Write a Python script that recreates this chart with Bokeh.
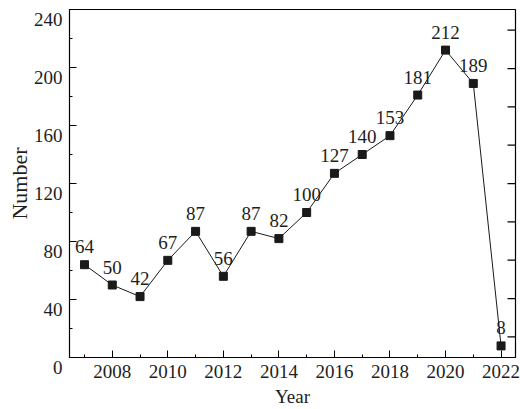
from bokeh.plotting import figure
from bokeh.models import ColumnDataSource, LinearAxis, Range1d, SingleIntervalTicker, FixedTicker
from bokeh.embed import file_html
from bokeh.resources import INLINE

years = [2007, 2008, 2009, 2010, 2011, 2012, 2013, 2014, 2015, 2016, 2017, 2018, 2019, 2020, 2021, 2022]
counts = [64, 50, 42, 67, 87, 56, 87, 82, 100, 127, 140, 153, 181, 212, 189, 8]
labels = [str(c) for c in counts]

y_major = [40, 80, 120, 160, 200, 240]
y_minor = [20, 60, 100, 140, 180, 220]
right_ticks = [0, 1, 2, 3, 4, 5, 6, 7, 8]

FONT = "Liberation Serif"
TXT = "#1e1e1e"
FS = "19px"

W, H = 520, 409
BL, BR, BT, BB = 69, 5, 9, 48
x0, x1 = 2006.46, 2022.52
y0, y1 = 0, 240
frame_h = H - BT - BB
shift = 10 * (y1 - y0) / frame_h  # y tick labels sit ~10px below their ticks
lab_start = y0 + shift

src = ColumnDataSource(dict(x=years, y=counts, t=labels))

p = figure(width=W, height=H, output_backend="svg", toolbar_location=None,
           x_range=Range1d(x0, x1), y_range=Range1d(y0, y1),
           y_axis_location=None,
           min_border_left=BL, min_border_right=BR, min_border_top=BT, min_border_bottom=BB,
           x_axis_label="Year")
p.background_fill_color = "white"
p.border_fill_color = "white"
p.grid.visible = False
p.outline_line_color = "black"
p.outline_line_width = 1.2

xa = p.xaxis[0]
xa.ticker = SingleIntervalTicker(interval=2, num_minor_ticks=2)
xa.major_tick_in = 7
xa.major_tick_out = 0
xa.minor_tick_in = 3
xa.minor_tick_out = 0
xa.axis_line_color = "black"
xa.axis_line_width = 1.2
xa.major_tick_line_color = "black"
xa.minor_tick_line_color = "black"
xa.major_label_standoff = 7
xa.axis_label_standoff = 5

# left axis: labels only, drawn ~10px below their ticks
p.extra_y_ranges = {"ylab": Range1d(lab_start, y1 + shift),
                    "y2": Range1d(-0.538, 8.54)}
ya = LinearAxis(y_range_name="ylab", ticker=FixedTicker(ticks=[lab_start] + y_major),
                axis_label="Number")
ya.major_label_overrides = {lab_start: "\n0"}
ya.major_label_text_line_height = 0.95
ya.axis_line_color = None
ya.major_tick_line_color = None
ya.minor_tick_line_color = None
ya.major_tick_in = 0
ya.major_tick_out = 0
ya.minor_tick_in = 0
ya.minor_tick_out = 0
ya.major_label_standoff = 7
ya.axis_label_standoff = -1
p.add_layout(ya, "left")

for ax in (xa, ya):
    ax.major_label_text_font = FONT
    ax.major_label_text_font_size = FS
    ax.major_label_text_color = TXT
    ax.axis_label_text_font = FONT
    ax.axis_label_text_font_size = FS
    ax.axis_label_text_font_style = "normal"
    ax.axis_label_text_color = TXT
ya.axis_label_text_font_size = "22px"

# inward tick marks on the left and right frame edges
p.scatter(x=[x0] * len(y_major), y=y_major, marker="dash", size=14,
          line_color="black", line_width=1.2)
p.scatter(x=[x0] * len(y_minor), y=y_minor, marker="dash", size=6,
          line_color="black", line_width=1.2)
p.scatter(x=[x1] * len(right_ticks), y=right_ticks, y_range_name="y2",
          marker="dash", size=16, line_color="black", line_width=1.2)

p.line("x", "y", source=src, line_color="#1a1a1a", line_width=1)
p.scatter("x", "y", source=src, marker="square", size=8,
          fill_color="#1a1a1a", line_color="#1a1a1a")
p.text("x", "y", text="t", source=src, y_offset=-18, text_align="center",
       text_baseline="middle", text_font={"value": FONT}, text_font_size=FS, text_color=TXT)

open("out.html", "w").write(file_html(p, INLINE))
